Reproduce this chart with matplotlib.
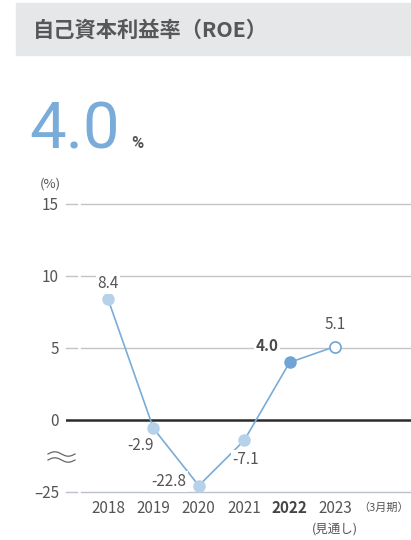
import numpy as np
import matplotlib.pyplot as plt
from matplotlib.patches import Rectangle

# ROE by fiscal year (March year-end), 2023 is a forecast
years = ["2018", "2019", "2020", "2021", "2022", "2023"]
roe = [8.4, -2.9, -22.8, -7.1, 4.0, 5.1]
yticks = [-25, 0, 5, 10, 15]

W, H = 411, 540
CJK = ["Noto Sans CJK JP", "DejaVu Sans"]
NUM = ["Liberation Sans Narrow", "Noto Sans CJK JP", "DejaVu Sans"]
GREY = "#555555"
BLUE = "#79acd8"


def px(x, y):
    return x / W, 1 - y / H


def fwd(y):
    y = np.asarray(y, dtype=float)
    return np.where(y >= 0, y, y / 5)


def inv(y):
    y = np.asarray(y, dtype=float)
    return np.where(y >= 0, y, y * 5)


fig = plt.figure(figsize=(W / 100, H / 100), dpi=100)

# header band
fig.patches.append(Rectangle(px(16, 55), (W - 16) / W, 52 / H,
                             transform=fig.transFigure, color="#e6e7e9", zorder=0))
fig.text(*px(33, 30), "自己資本利益率（ROE）", family=CJK, fontsize=15.3,
         fontweight="bold", color="#575757", va="center", ha="left")

# headline figure
fig.text(*px(29, 148), "4.0", family=["Roboto", "DejaVu Sans"],
         fontsize=47, color=BLUE, va="baseline", ha="left")
fig.text(*px(131, 148), "%", family=["Roboto", "DejaVu Sans"], fontweight="bold",
         fontsize=12, color=GREY, va="baseline", ha="left")
fig.text(*px(50, 184), "(%)", family=NUM, fontsize=9.5, color=GREY,
         va="center", ha="center")

left, bottom = 66, 492
ax = fig.add_axes([left / W, (H - bottom) / H, (W - left) / W, (bottom - 204) / H])
ax.set_yscale("function", functions=(fwd, inv))
ax.set_ylim(-25, 15)
ax.set_xlim((left - 108) / 45.4, (W - 108) / 45.4)

for s in ax.spines.values():
    s.set_visible(False)

# grid: short dash next to the label, then the long line
seg = 11 / (W - left)
gap = 15 / (W - left)
for t in [5, 10, 15]:
    ax.axhline(t, xmin=0, xmax=seg, color="#c4c4c4", lw=1, clip_on=False, zorder=1)
    ax.axhline(t, xmin=gap, xmax=1, color="#c4c4c4", lw=1, clip_on=False, zorder=1)
ax.axhline(-25, xmin=0, xmax=seg, color="#bcc1cc", lw=1, clip_on=False, zorder=1)
ax.axhline(-25, xmin=gap, xmax=1, color="#bcc1cc", lw=1, clip_on=False, zorder=1)
ax.axhline(0, color="#2b2b2b", lw=1.8, zorder=2)

x = np.arange(len(years))
ax.plot(x, roe, color=BLUE, lw=1.2, zorder=3)
ax.plot(x[:4], roe[:4], "o", ms=8, color="#b6d1ea", mec="#b6d1ea", zorder=4)
ax.plot(x[4], roe[4], "o", ms=8, color="#6ea5d5", mec="#6ea5d5", zorder=4)
ax.plot(x[5], roe[5], "o", ms=8, mfc="white", mec="#6ea5d5", mew=1.2, zorder=4)

# value labels
offsets = [(0, 11, "center", "normal"), (-9, -12, "center", "normal"),
           (-9, 3, "right", "normal"), (1, -14, "center", "normal"),
           (-16, 12, "center", "bold"), (0, 16, "center", "normal")]
for xi, v, (dx, dy, ha, fw) in zip(x, roe, offsets):
    ax.annotate(f"{v:.1f}", (xi, v), xytext=(dx, dy), textcoords="offset points",
                ha=ha, va="center", fontsize=11, family=NUM, fontweight=fw,
                color="#4a4a4a" if fw == "bold" else GREY, zorder=5,
                bbox=dict(boxstyle="square,pad=0.1", fc="white", ec="none"))

ax.set_yticks(yticks)
ax.set_yticklabels(["–25", "0", "5", "10", "15"], family=NUM, fontsize=11, color=GREY)
ax.tick_params(axis="y", length=0, pad=5)
ax.set_xticks(x)
ax.set_xticklabels(years, family=NUM, fontsize=11, color=GREY)
ax.tick_params(axis="x", length=0, pad=6)
for lab in ax.get_xticklabels():
    if lab.get_text() == "2022":
        lab.set_fontweight("bold")
        lab.set_color("#444444")

ax.annotate("(見通し)", (5, 0), xycoords=("data", "axes fraction"), xytext=(0, -27),
            textcoords="offset points", ha="center", va="center", family=CJK,
            fontsize=9, color=GREY, annotation_clip=False)
fig.text(*px(409, 508), "（3月期）", family=CJK, fontsize=8, color=GREY,
         ha="right", va="center")

# axis break mark
wx = np.linspace(48, 75, 60)
for yc in (454, 460):
    wy = yc - 2.2 * np.sin((wx - 48) / 27 * 2 * np.pi)
    fig.lines.append(plt.Line2D(wx / W, 1 - wy / H, transform=fig.transFigure,
                                color="#666666", lw=0.9))

fig.savefig("out.png", dpi=100)
